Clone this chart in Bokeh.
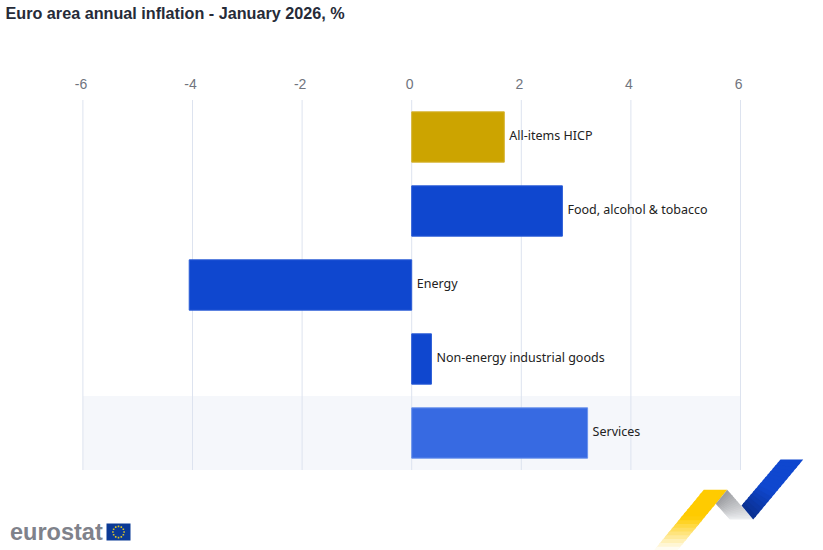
from bokeh.plotting import figure
from bokeh.models import ColumnDataSource, FixedTicker, Range1d
from bokeh.core.properties import value
from bokeh.embed import file_html
from bokeh.resources import INLINE
import math

TITLE = "Euro area annual inflation - January 2026, %"
BRAND = "eurostat"
categories = ["All-items HICP", "Food, alcohol & tobacco", "Energy", "Non-energy industrial goods", "Services"]
values = [1.69, 2.75, -4.06, 0.36, 3.21]
fills = ["#cca400", "#0f47cf", "#0f47cf", "#0f47cf", "#376ae2"]
lines = ["#d6b332", "#2a5cd6", "#2a5cd6", "#2a5cd6", "#6b93ec"]
ticks = [-6, -4, -2, 0, 2, 4, 6]
tick_labels = {t: str(t) + "\u00a0" for t in ticks}
rows = list(range(len(categories)))

W, H = 823, 550
SX, X0 = 54.8, 411.2      # px per unit, px of zero
SY, Y0 = 74.0, 136.5      # px per row, px of first row


def X(px):
    return (px - X0) / SX


def Y(py):
    return (py - Y0) / SY


p = figure(width=W, height=H, output_backend="svg", toolbar_location=None,
           x_range=Range1d(X(0), X(W)), y_range=Range1d(Y(H), Y(0)),
           x_axis_location="above", y_axis_location=None,
           min_border_left=0, min_border_right=0, min_border_top=0, min_border_bottom=0,
           outline_line_color=None, background_fill_color="white", border_fill_color="white")
p.styles = {"position": "absolute", "left": "0px", "top": "0px"}
p.grid.visible = False

ax = p.xaxis[0]
ax.fixed_location = Y(100)
ax.ticker = FixedTicker(ticks=ticks)
ax.major_label_overrides = tick_labels
ax.axis_line_color = None
ax.major_tick_line_color = None
ax.minor_tick_line_color = None
ax.major_label_text_color = "#70747e"
ax.major_label_text_font = "Liberation Sans"
ax.major_label_text_font_size = "14px"
ax.major_label_standoff = 3

top, bottom = rows[0] - .5, rows[-1] + .5
p.quad(left=[ticks[0]], right=[ticks[-1]], top=[rows[-1] - .5], bottom=[bottom],
       fill_color="#f5f7fb", line_color=None)
p.segment(x0=ticks, x1=ticks, y0=[top] * len(ticks), y1=[bottom] * len(ticks),
          line_color="#dde3ef", line_width=1)

src = ColumnDataSource(dict(cat=categories, row=rows, val=values, fill=fills, line=lines,
                            lx=[max(v, 0) for v in values]))
p.hbar(y="row", left=0, right="val", height=0.68, fill_color="fill", line_color="line",
       line_width=1, source=src)
p.text(x="lx", y="row", text="cat", x_offset=5, y_offset=-1.5, text_baseline="middle", text_align="left",
       text_font=value("Noto Sans"), text_font_size="12.5px", text_color="#222222", source=src)

p.text(x=[X(5)], y=[Y(12)], text=[TITLE], text_font=value("Liberation Sans"), text_font_style="bold",
       text_font_size="16.2px", text_color="#262b38", text_baseline="middle", text_align="left")
p.text(x=[X(9.5)], y=[Y(531)], text=[BRAND], text_font=value("Liberation Sans"), text_font_style="bold",
       text_font_size="23.5px", text_color="#7f828b", text_baseline="middle", text_align="left")


def poly(xs, ys, color):
    p.patch([X(x) for x in xs], [Y(y) for y in ys], fill_color=color, line_color=None)


def mix(a, b, t):
    ca = [int(a[i:i + 2], 16) for i in (1, 3, 5)]
    cb = [int(b[i:i + 2], 16) for i in (1, 3, 5)]
    return "#%02x%02x%02x" % tuple(round(u + (v - u) * t) for u, v in zip(ca, cb))


def ribbon(a0, b0, a1, b1, stops, n=16):
    for i in range(n):
        t0, t1 = i / n, min(1, (i + 1.4) / n)
        t = (i + .5) / n
        for j in range(len(stops) - 1):
            if stops[j][0] <= t <= stops[j + 1][0]:
                c = mix(stops[j][1], stops[j + 1][1], (t - stops[j][0]) / (stops[j + 1][0] - stops[j][0]))
                break
        lerp = lambda u, v, s: u + (v - u) * s
        xs = [lerp(a0[0], a1[0], t0), lerp(b0[0], b1[0], t0), lerp(b0[0], b1[0], t1), lerp(a0[0], a1[0], t1)]
        ys = [lerp(a0[1], a1[1], t0), lerp(b0[1], b1[1], t0), lerp(b0[1], b1[1], t1), lerp(a0[1], a1[1], t1)]
        poly(xs, ys, c)


# EU flag
poly([106, 130, 130, 106], [523, 523, 540, 540], "#0b3a96")
for k in range(12):
    a = k * math.pi / 6
    cx, cy = 118 + 5.6 * math.cos(a), 531.5 + 5.6 * math.sin(a)
    poly([cx - .8, cx + .8, cx + .8, cx - .8], [cy - .8, cy - .8, cy + .8, cy + .8], "#d8c22a")

# decorative ribbon
ribbon((703.3, 489.3), (726.7, 489.3), (653.3, 550), (676.7, 550),
       [(0, "#ffcb00"), (.45, "#ffcb00"), (1, "#ffffff")])
ribbon((726.7, 489.3), (715.3, 503.3), (752.7, 519), (729.3, 519),
       [(0, "#9a9b9f"), (1, "#eef0f2")])
ribbon((780, 459), (802.7, 459), (741, 505), (752.7, 519),
       [(0, "#0f47cf"), (.55, "#0f47cf"), (1, "#0a2f8e")])

open("out.html", "w").write(file_html(p, INLINE))
